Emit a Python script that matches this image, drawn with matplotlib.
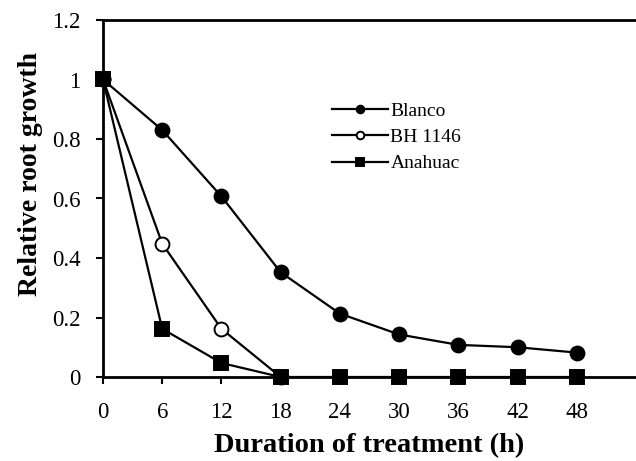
import numpy as np
from matplotlib import pyplot as plt

hours = [0, 6, 12, 18, 24, 30, 36, 42, 48]
blanco = [1.0, 0.83, 0.607, 0.352, 0.213, 0.143, 0.108, 0.1, 0.082]
bh_hours = [0, 6, 12, 18]
bh1146 = [1.0, 0.448, 0.162, 0.0]
anahuac = [1.0, 0.162, 0.047, 0.0, 0.0, 0.0, 0.0, 0.0, 0.0]

x_ticks = [0, 6, 12, 18, 24, 30, 36, 42, 48]
y_ticks = [0, 0.2, 0.4, 0.6, 0.8, 1.0, 1.2]
y_tick_labels = ["0", "0.2", "0.4", "0.6", "0.8", "1", "1.2"]

plt.rcParams["font.family"] = "Liberation Serif"

W, H = 636, 461
fig = plt.figure(figsize=(W / 100, H / 100), dpi=100)
ax = fig.add_axes([103 / W, 1 - 377 / H, (W - 103) / W, (377 - 20) / H])

style = dict(color="black", linewidth=1.6, markeredgewidth=1.4, markeredgecolor="black", clip_on=False)
ax.plot(hours, blanco, marker="o", markersize=10, markerfacecolor="black", label="Blanco", zorder=3, **style)
ax.plot(bh_hours, bh1146, marker="o", markersize=10, markerfacecolor="white", label="BH 1146", zorder=4, **style)
ax.plot(hours, anahuac, marker="s", markersize=9.5, markerfacecolor="black", label="Anahuac", zorder=5, **style)

ax.set_xlim(0, 54)
ax.set_ylim(0, 1.2)
ax.set_xticks(x_ticks)
ax.set_yticks(y_ticks)
ax.set_yticklabels(y_tick_labels)

for side in ["left", "bottom", "top"]:
    ax.spines[side].set_linewidth(2)
ax.spines["right"].set_visible(False)
ax.tick_params(direction="out", length=5, width=1.5, labelsize=16.5)
ax.tick_params(axis="y", pad=11)
ax.tick_params(axis="x", pad=13)

ax.set_xlabel("Duration of treatment (h)", fontsize=20.5, fontweight="bold")
ax.xaxis.set_label_coords(0.5, -(433 - 377) / (377 - 20))
ax.set_ylabel("Relative root growth", fontsize=20, fontweight="bold")
ax.yaxis.set_label_coords(-(103 - 43) / (W - 103), (377 - 174) / (377 - 20))

leg = ax.legend(loc="upper left", bbox_to_anchor=((332 - 103) / (W - 103), (377 - 102) / (377 - 20)),
                frameon=False, fontsize=14, markerscale=0.55, handlelength=2.9,
                handletextpad=0.1, labelspacing=0.45, borderaxespad=0, borderpad=0)

fig.savefig("out.png", dpi=100)
